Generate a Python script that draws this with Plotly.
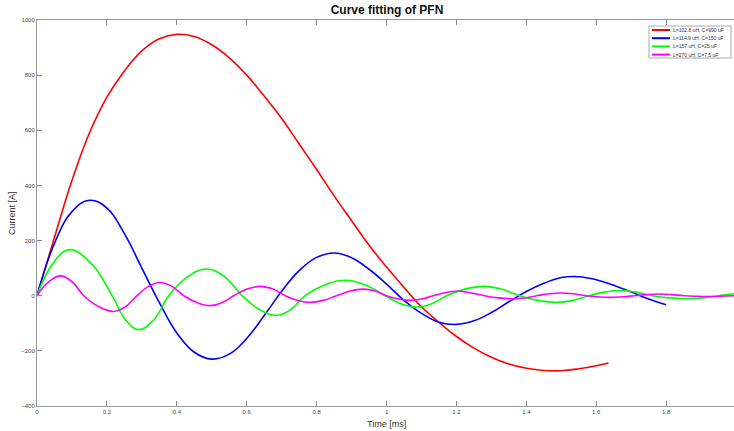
import plotly.graph_objects as go

# values (time in ms, current in A)
t_red = [0, 0.05, 0.1, 0.15, 0.2, 0.25, 0.3, 0.35, 0.4, 0.45, 0.5, 0.55, 0.6, 0.65, 0.7, 0.75,
         0.8, 0.85, 0.9, 0.95, 1.0, 1.05, 1.1, 1.15, 1.2, 1.25, 1.3, 1.35, 1.4, 1.45, 1.5,
         1.55, 1.6, 1.635]
i_red = [0, 212, 418, 590, 720, 815, 888, 932, 948, 940, 910, 863, 800, 724, 643, 550,
         458, 362, 272, 183, 104, 30, -40, -97, -148, -190, -223, -248, -263, -271, -272,
         -265, -254, -244]

t_blue = [0, 0.05, 0.1, 0.15, 0.2, 0.25, 0.3, 0.35, 0.4, 0.45, 0.5, 0.55, 0.6, 0.65, 0.7, 0.75,
          0.8, 0.85, 0.9, 0.95, 1.0, 1.05, 1.1, 1.15, 1.2, 1.25, 1.3, 1.35, 1.4, 1.45, 1.5,
          1.55, 1.6, 1.65, 1.7, 1.75, 1.8]
i_blue = [0, 190, 305, 346, 318, 225, 100, -25, -135, -205, -230, -212, -155, -72, 16, 91,
          139, 155, 138, 96, 42, -17, -64, -96, -104, -91, -61, -22, 15, 45, 66,
          69, 58, 38, 13, -12, -33]

t_green = [0, 0.046, 0.0925, 0.154, 0.215, 0.253, 0.291, 0.334, 0.377, 0.431, 0.486, 0.536,
           0.587, 0.636, 0.685, 0.726, 0.767, 0.824, 0.881, 0.938, 0.996, 1.041, 1.086, 1.129,
           1.172, 1.224, 1.277, 1.328, 1.38, 1.433, 1.487, 1.533, 1.58, 1.624, 1.668, 1.714,
           1.76, 1.81, 1.859, 1.905, 1.95, 1.994]
i_green = [0, 118, 167, 118, 0, -87, -123, -87, 0, 69, 97, 69,
           0, -50, -71, -50, 0, 40, 56, 40, 0, -29, -41, -29,
           0, 24, 34, 24, 0, -17, -24, -17, 0, 13, 19, 13,
           0, -8, -11, -8, 0, 7]

t_mag = [0, 0.034, 0.067, 0.10, 0.134, 0.177, 0.219, 0.253, 0.286, 0.319, 0.351, 0.386, 0.42,
         0.458, 0.496, 0.53, 0.563, 0.601, 0.639, 0.675, 0.71, 0.746, 0.781, 0.819, 0.857,
         0.896, 0.934, 0.967, 1.0, 1.034, 1.067, 1.1, 1.134, 1.168, 1.201, 1.24, 1.28, 1.32,
         1.36, 1.395, 1.43, 1.465, 1.5, 1.535, 1.57, 1.605, 1.64, 1.675, 1.71, 1.745, 1.78,
         1.815, 1.85, 1.885, 1.92, 1.957, 1.994]
i_mag = [0, 51, 72, 51, 0, -40, -57, -40, 0, 34, 48, 34, 0,
         -25, -36, -25, 0, 24, 34, 24, 0, -17, -24, -17, 0,
         17, 24, 17, 0, -12, -17, -12, 0, 11, 16, 11, 0, -8,
         -11, -8, 0, 7, 10, 7, 0, -4, -6, -4, 0, 4, 6,
         4, 0, -2, -3, -2, 0]

labels = ["L=102.8 uH, C=990 uF", "L=114.9 uH, C=150 uF", "L=157 uH, C=25 uF", "L=270 uH, C=7.5 uF"]
colors = ["#ff0000", "#0000ff", "#00ff00", "#ff00ff"]

W, H = 734, 431
ML, MR, MT, MB = 37, 0, 20, 25
PW, PH = W - ML - MR, H - MT - MB


def px_x(x):
    return (x - ML) / PW


def px_y(y):
    return (H - MB - y) / PH


fig = go.Figure()
for tt, ii, lab, col in zip([t_red, t_blue, t_green, t_mag], [i_red, i_blue, i_green, i_mag], labels, colors):
    fig.add_trace(go.Scatter(x=tt, y=ii, mode="lines", name=lab,
                             line=dict(color=col, width=1.6, shape="spline", smoothing=1.2)))

# compact MATLAB-style legend box
shapes = [dict(type="rect", xref="paper", yref="paper", x0=px_x(649), x1=px_x(731),
               y0=px_y(58), y1=px_y(26), line=dict(color="#aaaaaa", width=1), fillcolor="white")]
annots = []
for k, (lab, col) in enumerate(zip(labels, colors)):
    yy = px_y(30 + k * 8.2)
    shapes.append(dict(type="line", xref="paper", yref="paper", x0=px_x(652), x1=px_x(670),
                       y0=yy, y1=yy, line=dict(color=col, width=2)))
    annots.append(dict(text=lab, xref="paper", yref="paper", x=px_x(671), y=yy, xanchor="left",
                       yanchor="middle", showarrow=False, font=dict(size=5, color="#333333")))

annots.append(dict(text="Time [ms]", xref="paper", yref="paper", x=px_x(386), y=px_y(424),
                   xanchor="center", yanchor="middle", showarrow=False,
                   font=dict(size=9, color="#333333")))
annots.append(dict(text="Current [A]", xref="paper", yref="paper", x=px_x(12), y=px_y(213),
                   xanchor="center", yanchor="middle", showarrow=False, textangle=-90,
                   font=dict(size=9, color="#333333")))

axis_font = dict(family="Liberation Sans, Arial", size=6, color="#444444")
fig.update_layout(
    width=W, height=H,
    margin=dict(l=ML, r=MR, t=MT, b=MB, autoexpand=False),
    paper_bgcolor="white", plot_bgcolor="white",
    font=dict(family="Liberation Sans, Arial", color="#222222"),
    title=dict(text="<b>Curve fitting of PFN</b>", x=387 / W, xanchor="center", y=1 - 10 / H,
               yanchor="middle", font=dict(size=12, color="#111111")),
    showlegend=False,
    shapes=shapes,
    annotations=annots,
)
fig.update_xaxes(range=[0, 1.994], tickvals=[0, 0.2, 0.4, 0.6, 0.8, 1, 1.2, 1.4, 1.6, 1.8],
                 ticktext=["0", "0.2", "0.4", "0.6", "0.8", "1", "1.2", "1.4", "1.6", "1.8"],
                 ticks="inside", ticklen=5, tickcolor="#888888", showline=True, linecolor="#999999",
                 linewidth=1, mirror="ticks", showgrid=False, zeroline=False, tickfont=axis_font,
                 automargin=False)
fig.update_yaxes(range=[-400, 1000], dtick=200, ticks="inside", ticklen=5, tickcolor="#888888",
                 showline=True, linecolor="#999999", linewidth=1, showgrid=False, zeroline=False,
                 tickfont=axis_font, automargin=False)

# drop the default page margin so the figure sits at the window's corner
fig.write_html("out.html", config={"displayModeBar": False},
               post_script="document.body.style.margin='0px';")
